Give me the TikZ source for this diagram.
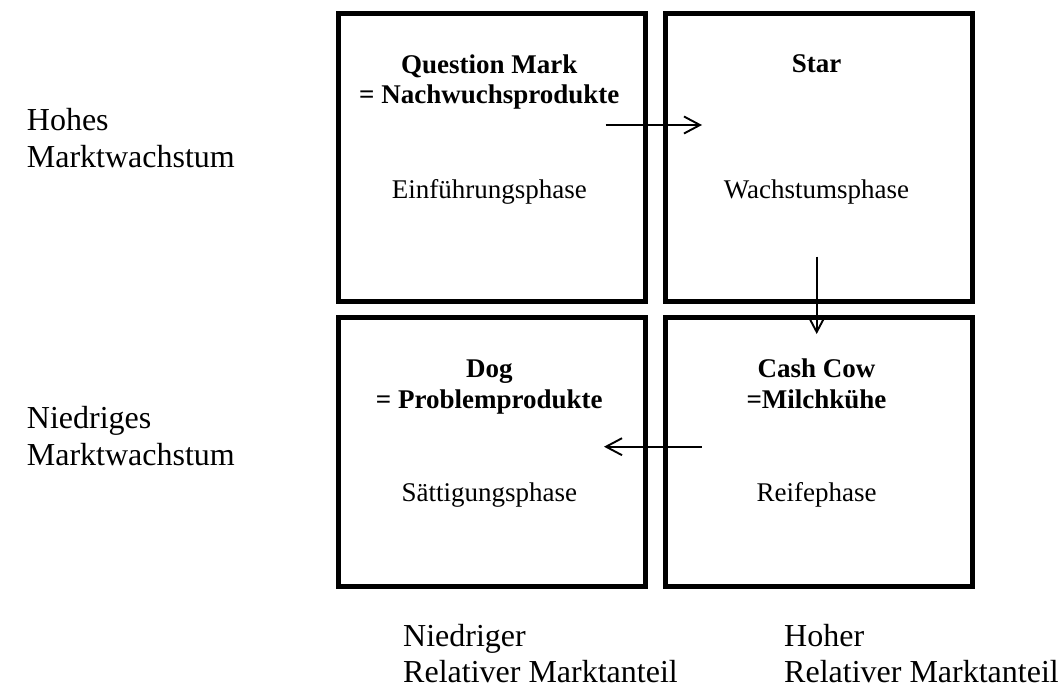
\documentclass[tikz,border=0pt]{standalone}
\usepackage{fontspec}
\setmainfont{Liberation Serif}
\usetikzlibrary{arrows.meta}
\begin{document}
\begin{tikzpicture}[x=1pt,y=-1pt,
  quad/.style={draw=black,line width=5pt,rectangle,inner sep=0pt,anchor=north west},
  boxtxt/.style={anchor=base,inner sep=0pt,font=\fontsize{27}{31}\selectfont},
  boxhead/.style={boxtxt,font=\fontsize{27}{31}\selectfont\bfseries},
  sidetxt/.style={anchor=base west,inner sep=0pt,font=\fontsize{32}{37}\selectfont},
  flow/.style={line width=1.9pt,-{Straight Barb[length=16pt,width=17pt,line width=1.9pt]}}]
\useasboundingbox (0,0) rectangle (1059,695);
% boxes
\node[quad,minimum width=307.5pt,minimum height=287.7pt] (q) at (335.5,10.8) {};
\node[quad,minimum width=307pt,minimum height=287.7pt] (s) at (663,10.8) {};
\node[quad,minimum width=307.5pt,minimum height=268.7pt] (d) at (335.5,314.8) {};
\node[quad,minimum width=307pt,minimum height=268.7pt] (c) at (663,314.8) {};
% box texts
\node[boxhead] (q1) at (489.3,73.3) {Question Mark};
\node[boxhead] (q2) at (489.3,104) {= Nachwuchsprodukte};
\node[boxtxt] (q3) at (489.3,198.3) {Einführungsphase};
\node[boxhead] (s1) at (816.5,72.7) {Star};
\node[boxtxt] (s3) at (816.5,198.3) {Wachstumsphase};
\node[boxhead] (d1) at (489.3,377.7) {Dog};
\node[boxhead] (d2) at (489.3,408.3) {= Problemprodukte};
\node[boxtxt] (d3) at (489.3,501.7) {Sättigungsphase};
\node[boxhead] (c1) at (816.5,377.7) {Cash Cow};
\node[boxhead] (c2) at (816.5,408.3) {=Milchkühe};
\node[boxtxt] (c3) at (816.5,501.7) {Reifephase};
% side labels
\node[sidetxt] (h1) at (26.7,131) {Hohes};
\node[sidetxt] (h2) at (26.7,167.7) {Marktwachstum};
\node[sidetxt] (n1) at (26.7,428.3) {Niedriges};
\node[sidetxt] (n2) at (26.7,465) {Marktwachstum};
\node[sidetxt] (b1) at (403,646) {Niedriger};
\node[sidetxt] (b2) at (403,682) {Relativer Marktanteil};
\node[sidetxt] (b3) at (784,646) {Hoher};
\node[sidetxt] (b4) at (784,682) {Relativer Marktanteil};
% arrows
\coordinate (a1s) at (605.7,125);
\coordinate (a1e) at (702,125);
\coordinate (a2s) at (816.7,256.7);
\coordinate (a2e) at (816.7,334);
\coordinate (a3s) at (701.7,446.7);
\coordinate (a3e) at (604,446.7);
\draw[flow] (a1s) -- (a1e);
\draw[flow] (a2s) -- (a2e);
\draw[flow] (a3s) -- (a3e);
\end{tikzpicture}
\end{document}
